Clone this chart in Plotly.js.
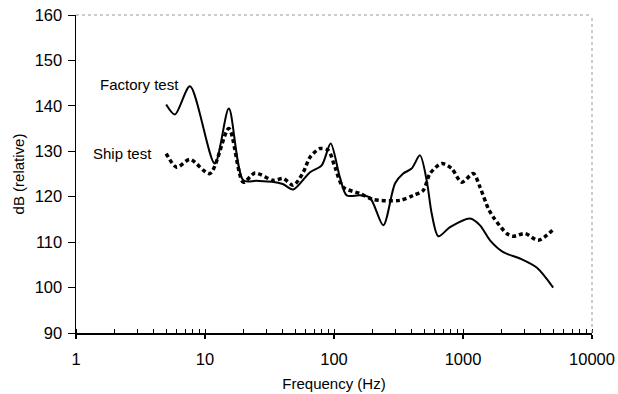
<!DOCTYPE html>
<html>
<head>
<meta charset="utf-8">
<script src="https://cdn.plot.ly/plotly-3.0.1.min.js"></script>
<style>html,body{margin:0;padding:0;background:#fff;}#chart{width:618px;height:394px;}</style>
</head>
<body>
<div id="chart"></div>
<script>
// Factory test (solid)
var factoryFreq = [5, 5.85, 7.65, 11.9, 15.3, 19.8, 25, 33, 40, 48.3, 65.2, 80.3, 94.2, 111, 125.4, 159, 190, 241, 297, 344, 400, 464, 523, 572, 644, 793, 1133, 1355, 1620, 2052, 2767, 3725, 5000];
var factoryDb   = [140.3, 138.1, 144.3, 127.3, 139.4, 123.6, 123.5, 123.3, 122.8, 121.6, 125.4, 126.9, 131.7, 124.3, 120.3, 120.3, 119.8, 113.7, 122.9, 125.1, 126.2, 129.1, 123.6, 116.3, 111.3, 113.3, 115.2, 113.7, 110.4, 107.8, 106.4, 104.4, 100.0];
// Ship test (dotted)
var shipFreq = [5, 6.03, 7.65, 10.9, 15.3, 19.8, 24.4, 33.9, 40.5, 48.3, 57.8, 65.2, 77.9, 90.3, 101.8, 118, 159, 202, 325, 412, 492, 555, 684, 817, 977, 1202, 1355, 1571, 1718, 2183, 2455, 3026, 3836, 5000];
var shipDb   = [129.5, 126.5, 128.2, 125.1, 135.0, 123.2, 125.2, 123.6, 124.0, 122.5, 125.4, 128.7, 130.6, 130.2, 126.5, 122.1, 120.7, 119.4, 119.2, 120.3, 121.4, 125.1, 127.3, 126.2, 123.2, 125.1, 122.1, 117.4, 115.5, 111.9, 111.3, 111.9, 110.4, 112.8];
var xTickVals = [1, 10, 100, 1000, 10000];
var xTickText = ['1', '10', '100', '1000', '10000'];
var yTickVals = [90, 100, 110, 120, 130, 140, 150, 160];

var minorVals = [];
for (var d = 1; d <= 1000; d *= 10) {
  for (var m = 1; m <= 10; m++) minorVals.push(d * m);
}

var font = {family: 'Liberation Sans, Arial, sans-serif', size: 15, color: '#000'};
var tickFont = {family: 'Liberation Sans, Arial, sans-serif', size: 16.5, color: '#000'};

var traces = [
  {x: factoryFreq, y: factoryDb, mode: 'lines', type: 'scatter', line: {color: '#000', width: 2, shape: 'spline', smoothing: 0.8}, showlegend: false, hoverinfo: 'skip'},
  {x: shipFreq, y: shipDb, mode: 'lines', type: 'scatter', line: {color: '#000', width: 3.5, shape: 'spline', smoothing: 0.8, dash: '4px,3px'}, showlegend: false, hoverinfo: 'skip'}
];

var layout = {
  width: 618, height: 394,
  margin: {l: 76, r: 26, t: 15, b: 61},
  paper_bgcolor: '#fff', plot_bgcolor: '#fff',
  font: font,
  xaxis: {
    type: 'log', range: [0, 4],
    tickvals: xTickVals, ticktext: xTickText,
    ticks: 'outside', ticklen: 4, tickwidth: 1.2, tickcolor: '#000',
    showline: true, linecolor: '#000', linewidth: 1.5,
    showgrid: false, zeroline: false,
    ticklabelstandoff: 7,
    minor: {tickvals: minorVals, ticks: 'inside', ticklen: 4, tickcolor: '#000', tickwidth: 1, showgrid: false},
    title: {text: 'Frequency (Hz)', font: font, standoff: 11},
    tickfont: tickFont
  },
  yaxis: {
    range: [90, 160],
    tickvals: yTickVals,
    ticks: 'outside', ticklen: 7, tickwidth: 1, tickcolor: '#000',
    showline: true, linecolor: '#000', linewidth: 1.5,
    showgrid: false, zeroline: false,
    ticklabelstandoff: 2,
    title: {text: 'dB (relative)', font: font, standoff: 6},
    tickfont: tickFont
  },
  shapes: [
    {type: 'line', xref: 'paper', yref: 'paper', x0: 0, x1: 1, y0: 1, y1: 1, line: {color: '#999', width: 1, dash: 'dot'}},
    {type: 'line', xref: 'paper', yref: 'paper', x0: 1, x1: 1, y0: 0, y1: 1, line: {color: '#999', width: 1, dash: 'dot'}}
  ],
  annotations: [
    {text: 'Factory test', x: 0.496, y: 144.7, xref: 'x', yref: 'y', showarrow: false, font: font},
    {text: 'Ship test', x: 0.357, y: 129.6, xref: 'x', yref: 'y', showarrow: false, font: font}
  ]
};

Plotly.newPlot('chart', traces, layout, {displayModeBar: false, staticPlot: true});
</script>
</body>
</html>
